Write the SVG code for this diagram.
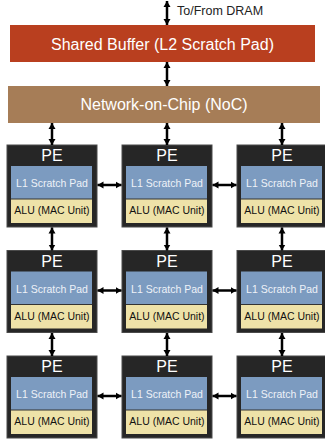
<svg xmlns="http://www.w3.org/2000/svg" width="325" height="441" viewBox="0 0 325 441">
<defs>
<marker id="ah" markerWidth="8" markerHeight="8" refX="6" refY="4" orient="auto-start-reverse" markerUnits="userSpaceOnUse">
<path d="M0,0.5 L6,4 L0,7.5 Z" fill="#000"/>
</marker>
<g id="peT">
<rect x="0" y="0" width="90" height="82" fill="#262626" stroke="#4a4a4a" stroke-width="1"/>
<rect x="4" y="21" width="81" height="33" fill="#7C9BC0"/>
<rect x="4" y="54" width="81" height="24" fill="#EEE2A8"/>
<line x1="4" y1="54" x2="85" y2="54" stroke="#333" stroke-width="1"/>
<text x="45" y="16" class="pe">PE</text>
<text x="45" y="42" class="l1">L1 Scratch Pad</text>
<text x="45" y="69" class="alu">ALU (MAC Unit)</text>
</g>
</defs>
<style>
text{font-family:"Liberation Sans",Arial,sans-serif;text-anchor:middle}
.pe{font-size:16px;fill:#fff}
.l1{font-size:10.5px;fill:#eef2f8}
.alu{font-size:10.5px;fill:#111}
.big{font-size:16px;fill:#fff}
.conn line{stroke:#000;stroke-width:2.5;marker-start:url(#ah);marker-end:url(#ah)}
</style>
<g id="dram-label"><text x="177" y="15" style="font-size:12.5px;text-anchor:start;fill:#222">To/From DRAM</text></g>
<g id="shared-buffer">
<rect x="10" y="25" width="305" height="37" fill="#B93F1F"/>
<text x="162.5" y="50" class="big">Shared Buffer (L2 Scratch Pad)</text>
</g>
<g id="noc">
<rect x="8" y="86" width="312" height="37" fill="#A67D57"/>
<text x="164" y="110" class="big">Network-on-Chip (NoC)</text>
</g>
<g id="pe-1-1"><use href="#peT" x="7" y="145"/></g>
<g id="pe-1-2"><use href="#peT" x="122" y="145"/></g>
<g id="pe-1-3"><use href="#peT" x="237" y="145"/></g>
<g id="pe-2-1"><use href="#peT" x="7" y="250.5"/></g>
<g id="pe-2-2"><use href="#peT" x="122" y="250.5"/></g>
<g id="pe-2-3"><use href="#peT" x="237" y="250.5"/></g>
<g id="pe-3-1"><use href="#peT" x="7" y="356"/></g>
<g id="pe-3-2"><use href="#peT" x="122" y="356"/></g>
<g id="pe-3-3"><use href="#peT" x="237" y="356"/></g>
<g class="conn" id="connectors">
<line x1="167" y1="1" x2="167" y2="25"/>
<line x1="167" y1="62" x2="167" y2="86"/>
<line x1="52" y1="123" x2="52" y2="145"/>
<line x1="167" y1="123" x2="167" y2="145"/>
<line x1="282" y1="123" x2="282" y2="145"/>
<line x1="52" y1="227.5" x2="52" y2="250.5"/>
<line x1="167" y1="227.5" x2="167" y2="250.5"/>
<line x1="282" y1="227.5" x2="282" y2="250.5"/>
<line x1="52" y1="333" x2="52" y2="356"/>
<line x1="167" y1="333" x2="167" y2="356"/>
<line x1="282" y1="333" x2="282" y2="356"/>
<line x1="97.5" y1="185" x2="121.5" y2="185"/>
<line x1="212.5" y1="185" x2="236.5" y2="185"/>
<line x1="97.5" y1="290.5" x2="121.5" y2="290.5"/>
<line x1="212.5" y1="290.5" x2="236.5" y2="290.5"/>
<line x1="97.5" y1="396" x2="121.5" y2="396"/>
<line x1="212.5" y1="396" x2="236.5" y2="396"/>
</g>
</svg>
